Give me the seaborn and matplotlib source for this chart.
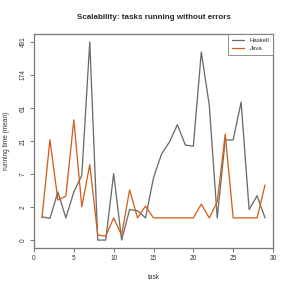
import numpy as np
import pandas as pd
import matplotlib
matplotlib.use("Agg")
import matplotlib.pyplot as plt
import seaborn as sns

# mean running time per task
tasks = list(range(1, 30))
haskell = [1.07, 0.97, 3.5, 1.0, 3.5, 6.6, 491, 0.0, 0.0, 7.0,
           0.0, 1.6, 1.5, 1.0, 6.0, 13.7, 20.5, 36, 18.5, 17.9,
           357, 67, 1.0, 21.8, 22, 74, 1.6, 3.0, 1.0]
java = [1.0, 22, 2.5, 2.95, 42, 1.83, 9.6, 0.17, 0.13, 1.0,
        0.17, 3.8, 1.0, 1.9, 1.0, 1.0, 1.0, 1.0, 1.0, 1.0,
        2.08, 1.0, 2.3, 26.5, 1.0, 1.0, 1.0, 1.0, 4.6]
languages = ["Haskell", "Java"]
colors = {"Haskell": "#6b6b6b", "Java": "#d2601c"}

df = pd.DataFrame({
    "task": tasks * 2,
    "time": haskell + java,
    "lang": ["Haskell"] * len(tasks) + ["Java"] * len(tasks),
})
df["ltime"] = np.log1p(df["time"])

sns.set_style("white")
plt.rcParams["font.family"] = ["Liberation Sans", "DejaVu Sans"]

fig = plt.figure(figsize=(291 / 72, 291 / 72), dpi=72)
ax = fig.add_axes([34 / 291, 1 - 248 / 291, 239 / 291, 214 / 291])

sns.lineplot(data=df, x="task", y="ltime", hue="lang", hue_order=languages,
             palette=colors, lw=1.3, ax=ax, legend=False)

top = np.log1p(max(haskell + java))
yt = np.linspace(0, top, 7)
ax.set_yticks(yt)
ax.set_yticklabels([f"{np.expm1(t):.0f}" for t in yt], rotation=90, va="center")
ax.set_ylim(-0.04 * top, top * 1.04)
ax.set_xlim(0, 30)
ax.set_xticks([0, 5, 10, 15, 20, 25, 30])

for s in ax.spines.values():
    s.set_color("#7a7a7a")
    s.set_linewidth(1.3)
ax.tick_params(axis="both", direction="out", length=4, width=1.0, color="#7a7a7a",
               labelsize=6.5, labelcolor="#333333", pad=3, left=True, bottom=True)

ax.set_xlabel("task", fontsize=6.5, color="#333333", labelpad=12)
ax.set_ylabel("running time (mean)", fontsize=6.5, color="#333333", labelpad=10)
ax.set_title("Scalability: tasks running without errors", fontsize=8,
             fontweight="bold", pad=15)

handles = [plt.Line2D([], [], color=colors[l], lw=1.3) for l in languages]
leg = ax.legend(handles, languages, loc="upper right", borderaxespad=0,
                fontsize=6, handlelength=2.0, handletextpad=1.0,
                labelspacing=0.5, borderpad=0.6,
                frameon=True, fancybox=False)
leg.get_frame().set_edgecolor("#7a7a7a")
leg.get_frame().set_linewidth(1.0)

fig.savefig("out.png", dpi=72)
